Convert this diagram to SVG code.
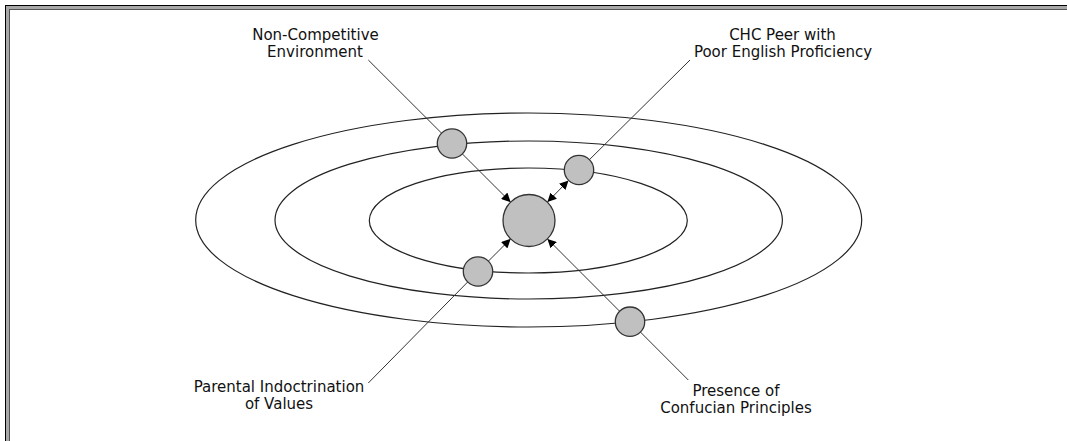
<svg xmlns="http://www.w3.org/2000/svg" width="1067" height="441" viewBox="0 0 1067 441">
<style>
.lbl{font-family:"DejaVu Sans",Verdana,sans-serif;font-size:15px;fill:#111;text-anchor:middle}
.orbit{fill:none;stroke:#222;stroke-width:1.2}
.node{fill:#c0c0c0;stroke:#333;stroke-width:1.3}
.conn{stroke:#333;stroke-width:1;fill:none}
</style>
<defs>
<marker id="ah" markerUnits="userSpaceOnUse" markerWidth="10" markerHeight="9" refX="9" refY="4.5" orient="auto-start-reverse">
<path d="M0,0 L9,4.5 L0,9 z" fill="#000"/>
</marker>
</defs>
<rect x="0" y="0" width="1067" height="441" fill="#fff"/>
<g id="frame">
<rect x="5.5" y="5.5" width="1200" height="600" fill="none" stroke="#000" stroke-width="1"/>
<rect x="7.5" y="7.5" width="1200" height="600" fill="none" stroke="#a8a8a8" stroke-width="3"/>
<rect x="9.5" y="9.5" width="1200" height="600" fill="none" stroke="#555" stroke-width="1"/>
</g>
<g id="orbits">
<ellipse class="orbit" cx="528.7" cy="220" rx="333" ry="107"/>
<ellipse class="orbit" cx="528.7" cy="220" rx="253.7" ry="79"/>
<ellipse class="orbit" cx="528.3" cy="220.5" rx="159" ry="52.5"/>
</g>
<g id="connectors">
<line class="conn" x1="368.3" y1="60" x2="510.6" y2="202.1" marker-end="url(#ah)"/>
<line class="conn" x1="690" y1="60" x2="579" y2="170"/>
<line class="conn" x1="568.5" y1="180.5" x2="547.4" y2="202.1" marker-start="url(#ah)" marker-end="url(#ah)"/>
<line class="conn" x1="368.3" y1="383" x2="478" y2="271.5"/>
<line class="conn" x1="488.5" y1="261" x2="510.6" y2="238.9" marker-end="url(#ah)"/>
<line class="conn" x1="688.3" y1="380" x2="547.4" y2="238.9" marker-end="url(#ah)"/>
</g>
<g id="center"><circle class="node" cx="529" cy="220.5" r="26"/></g>
<g id="non-competitive">
<circle class="node" cx="452" cy="143.5" r="14.7"/>
<text class="lbl" x="315.5" y="40">Non-Competitive</text>
<text class="lbl" x="315" y="56.5">Environment</text>
</g>
<g id="chc-peer">
<circle class="node" cx="579" cy="170" r="14.7"/>
<text class="lbl" x="782.5" y="40">CHC Peer with</text>
<text class="lbl" x="783" y="56.5">Poor English Proficiency</text>
</g>
<g id="parental">
<circle class="node" cx="478" cy="271.5" r="14.7"/>
<text class="lbl" x="279" y="392.3">Parental Indoctrination</text>
<text class="lbl" x="279" y="409">of Values</text>
</g>
<g id="presence">
<circle class="node" cx="630" cy="321.7" r="14.7"/>
<text class="lbl" x="736" y="396">Presence of</text>
<text class="lbl" x="736" y="412.5">Confucian Principles</text>
</g>
</svg>
